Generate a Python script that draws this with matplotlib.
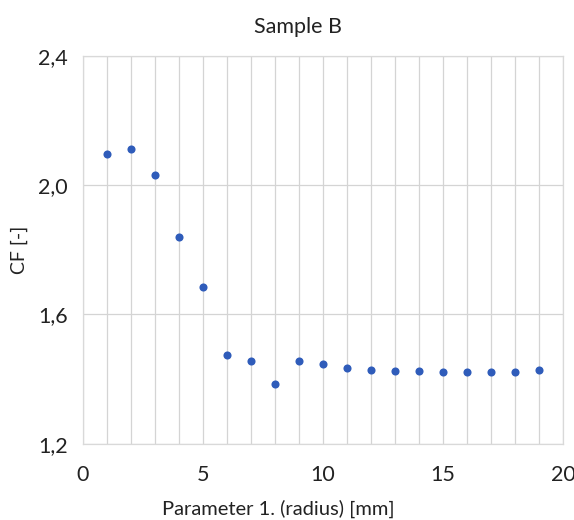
import matplotlib.pyplot as plt
from matplotlib.ticker import MultipleLocator, FuncFormatter

# radius steps and measured CF values
radius = [1, 2, 3, 4, 5, 6, 7, 8, 9, 10, 11, 12, 13, 14, 15, 16, 17, 18, 19]
cf = [2.097, 2.111, 2.032, 1.839, 1.685, 1.476, 1.455, 1.385, 1.455, 1.447,
      1.434, 1.429, 1.425, 1.425, 1.423, 1.421, 1.423, 1.423, 1.427]

plt.rcParams['font.family'] = ['Lato', 'DejaVu Sans']

fig = plt.figure(figsize=(5.74, 5.2), dpi=100)
ax = fig.add_axes([0.1446, 0.1467, 0.8362, 0.7456])

ax.scatter(radius, cf, s=34, color='#2f5cba', zorder=3, linewidths=0)

ax.set_xlim(0, 20)
ax.set_ylim(1.2, 2.4)
ax.xaxis.set_major_locator(MultipleLocator(5))
ax.xaxis.set_minor_locator(MultipleLocator(1))
ax.yaxis.set_major_locator(MultipleLocator(0.4))
ax.yaxis.set_major_formatter(FuncFormatter(lambda v, p: f'{v:.1f}'.replace('.', ',')))

ax.grid(True, which='both', axis='x', color='#d4d4d4', linewidth=0.9)
ax.grid(True, which='major', axis='y', color='#d4d4d4', linewidth=0.9)
for sp in ax.spines.values():
    sp.set_color('#d9d9d9')
    sp.set_linewidth(0.9)
ax.tick_params(which='both', length=0, labelsize=15.5, colors='#222222', pad=11)
ax.tick_params(axis='x', pad=15)

# title and x label are centred on the whole chart, not the plot area
fig.text(0.519, 0.948, 'Sample B', fontsize=15.5, ha='center', va='center', color='#222222')
fig.text(0.485, 0.022, 'Parameter 1. (radius) [mm]', fontsize=14.5, ha='center', va='center',
         color='#222222')
ax.set_ylabel('CF [-]', fontsize=14, labelpad=7, color='#222222')

fig.savefig('out.png', dpi=100, facecolor='white')
